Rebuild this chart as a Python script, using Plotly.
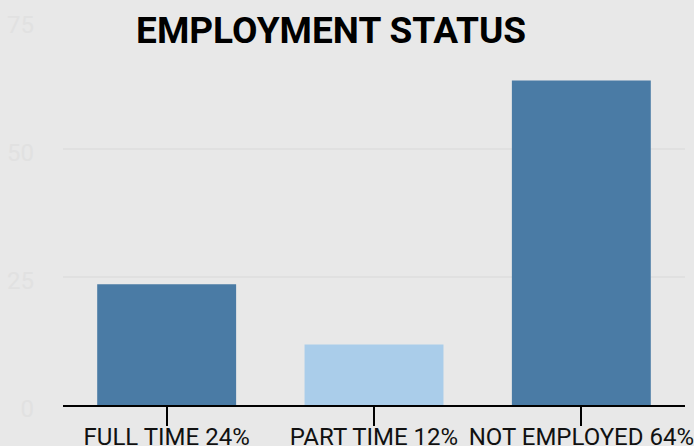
import plotly.graph_objects as go

categories = ["FULL TIME 24%", "PART TIME 12%", "NOT EMPLOYED 64%"]
values = [23.6, 11.8, 63.4]
bar_colors = ["#4a7ba5", "#aacdea", "#4a7ba5"]
y_ticks = [0, 25, 50, 75]

fig = go.Figure(go.Bar(x=categories, y=values, marker=dict(color=bar_colors, line=dict(width=0))))

fig.update_layout(
    width=694, height=446,
    paper_bgcolor="#e8e8e8", plot_bgcolor="#e8e8e8",
    margin=dict(l=63, r=9, t=21, b=41, autoexpand=False),
    bargap=0.33,
    showlegend=False,
    font=dict(family="Roboto", color="#111111"),
    title=dict(text="<b>EMPLOYMENT STATUS</b>", x=0.431, xref="paper", xanchor="center",
               y=1 - 30 / 446, yref="container", yanchor="middle",
               font=dict(family="Roboto", size=37, color="#000000")),
)
fig.update_xaxes(showline=True, linecolor="#000000", linewidth=2, automargin=False,
                 ticks="outside", ticklen=19, tickwidth=2, tickcolor="#000000",
                 ticklabelstandoff=-10,
                 tickfont=dict(family="Roboto", size=24, color="#111111"),
                 showgrid=False)
fig.update_yaxes(range=[0, 75], tickvals=y_ticks, showgrid=True, gridcolor="#e0e0e0", gridwidth=2,
                 zeroline=False, showline=False, ticks="", ticklabelstandoff=28, ticklabelshift=4,
                 automargin=False,
                 tickfont=dict(family="Roboto", size=24, color="#e1e1e1"))

fig.write_html("out.html", config={"displayModeBar": False},
               post_script="document.body.style.margin='0';document.body.style.overflow='hidden';")
